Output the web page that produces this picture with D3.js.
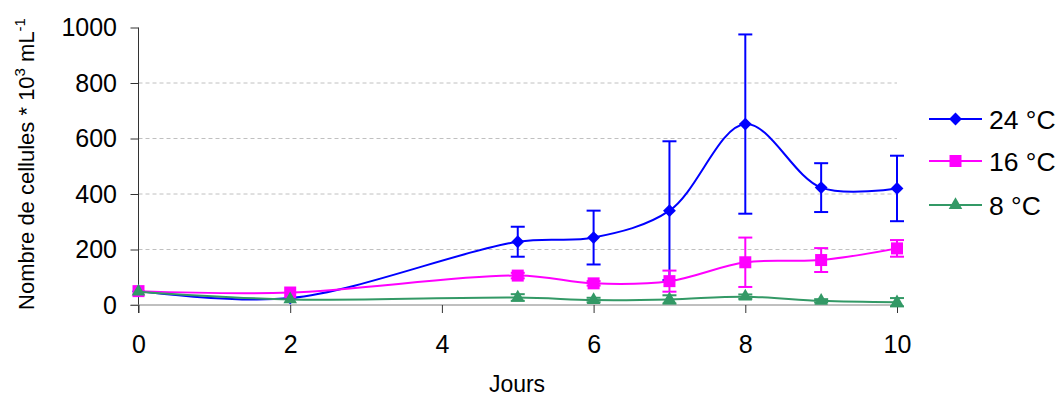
<!DOCTYPE html>
<html><head><meta charset="utf-8">
<script src="https://cdn.jsdelivr.net/npm/d3@7"></script>
<style>body{margin:0;background:#fff}svg{display:block;font-family:"Liberation Sans",Arial,sans-serif}</style>
</head><body><svg id="c" width="1061" height="398"></svg>
<script>
const days = [0, 2, 5, 6, 7, 8, 9, 10];
const seriesNames = ["24 °C", "16 °C", "8 °C"];
const vals24 = [50, 25, 228, 243, 340, 652, 423, 420];
const err24  = [0, 0, 54, 97, 250, 323, 88, 118];
const vals16 = [50, 45, 106, 78, 86, 154, 162, 204];
const err16  = [0, 0, 10, 8, 38, 89, 43, 30];
const vals8  = [48, 20, 27, 18, 20, 30, 15, 10];
const err8   = [0, 0, 12, 8, 15, 8, 6, 15];
const yTicks = [0, 200, 400, 600, 800, 1000];
const xTicks = [0, 2, 4, 6, 8, 10];
const colors = ["#0000ff", "#ff00ff", "#339966"];
const symbols = [d3.symbolDiamond2, d3.symbolSquare, d3.symbolTriangle];

const svg = d3.select("#c");
const x = d3.scaleLinear().domain([0, 10]).range([138.5, 897]);
const y = d3.scaleLinear().domain([0, 1000]).range([305, 27.5]);

// gridlines
svg.append("g").selectAll("line").data(yTicks.filter(d => d > 0 && d < 1000)).join("line")
  .attr("x1", x(0)).attr("x2", x(10)).attr("y1", d => y(d)).attr("y2", d => y(d))
  .attr("stroke", "#c0c0c0").attr("stroke-dasharray", "4,3").attr("stroke-width", 1);

// y axis
const ya = svg.append("g").attr("transform", `translate(${x(0)},0)`)
  .call(d3.axisLeft(y).tickValues(yTicks).tickSize(8).tickPadding(13.5).tickFormat(d3.format("d")));
ya.select(".domain").attr("stroke", "#333").attr("d", `M0,${y(1000)}V${y(0)+8}`);
ya.selectAll(".tick line").attr("stroke", "#333");
ya.selectAll("text").attr("font-size", 25).attr("fill", "#000").attr("font-family", "Liberation Sans, Arial, sans-serif");

// x axis
const xa = svg.append("g").attr("transform", `translate(0,${y(0)})`)
  .call(d3.axisBottom(x).tickValues(xTicks).tickSize(8).tickPadding(22).tickFormat(d3.format("d")));
xa.select(".domain").attr("stroke", "#808080").attr("d", `M${x(0)-8},0H${x(10)}`);
xa.selectAll(".tick line").attr("stroke", "#333");
xa.selectAll("text").attr("font-size", 25).attr("fill", "#000").attr("font-family", "Liberation Sans, Arial, sans-serif");

// axis titles
svg.append("text").attr("x", 517).attr("y", 392).attr("text-anchor", "middle")
  .attr("font-size", 23).text("Jours");
const yl = svg.append("text").attr("transform", "translate(33.5,164) rotate(-90)")
  .attr("text-anchor", "middle").attr("font-size", 22);
yl.append("tspan").text("Nombre de cellules * 10");
yl.append("tspan").attr("dy", -9).attr("font-size", 15).text("3");
yl.append("tspan").attr("dy", 9).text(" mL");
yl.append("tspan").attr("dy", -9).attr("font-size", 15).text("-1");

const data = [
  {v: vals24, e: err24},
  {v: vals16, e: err16},
  {v: vals8, e: err8}
];
const line = d3.line().x(d => x(d[0])).y(d => y(d[1])).curve(d3.curveCatmullRom.alpha(0.5));
const symSizes = [105, 144, 80];

data.forEach((s, i) => {
  const g = svg.append("g");
  const pts = days.map((d, j) => [d, s.v[j], s.e[j]]);
  g.append("path").attr("d", line(pts)).attr("fill", "none").attr("stroke", colors[i]).attr("stroke-width", 2);
  const eb = pts.filter(p => p[2] > 0);
  g.selectAll(".ev").data(eb).join("line").attr("x1", p => x(p[0])).attr("x2", p => x(p[0]))
    .attr("y1", p => y(p[1] - p[2])).attr("y2", p => y(p[1] + p[2])).attr("stroke", colors[i]).attr("stroke-width", 2);
  [1, -1].forEach(sg => {
    g.selectAll(".ec" + sg).data(eb).join("line").attr("x1", p => x(p[0]) - 7).attr("x2", p => x(p[0]) + 7)
      .attr("y1", p => y(p[1] + sg * p[2])).attr("y2", p => y(p[1] + sg * p[2])).attr("stroke", colors[i]).attr("stroke-width", 2);
  });
  g.selectAll("path.m").data(pts).join("path").attr("class", "m")
    .attr("transform", p => `translate(${x(p[0])},${y(p[1])})`)
    .attr("d", d3.symbol().type(symbols[i]).size(symSizes[i])).attr("fill", colors[i]);
});

// legend
const legY = [119, 161, 205];
seriesNames.forEach((n, i) => {
  const g = svg.append("g");
  g.append("line").attr("x1", 929).attr("x2", 982).attr("y1", legY[i]).attr("y2", legY[i])
    .attr("stroke", colors[i]).attr("stroke-width", 2);
  g.append("path").attr("transform", `translate(955.5,${legY[i]})`)
    .attr("d", d3.symbol().type(symbols[i]).size(symSizes[i])).attr("fill", colors[i]);
  g.append("text").attr("x", 989).attr("y", legY[i] + 9.5).attr("font-size", 26.5).text(n);
});
</script></body></html>
